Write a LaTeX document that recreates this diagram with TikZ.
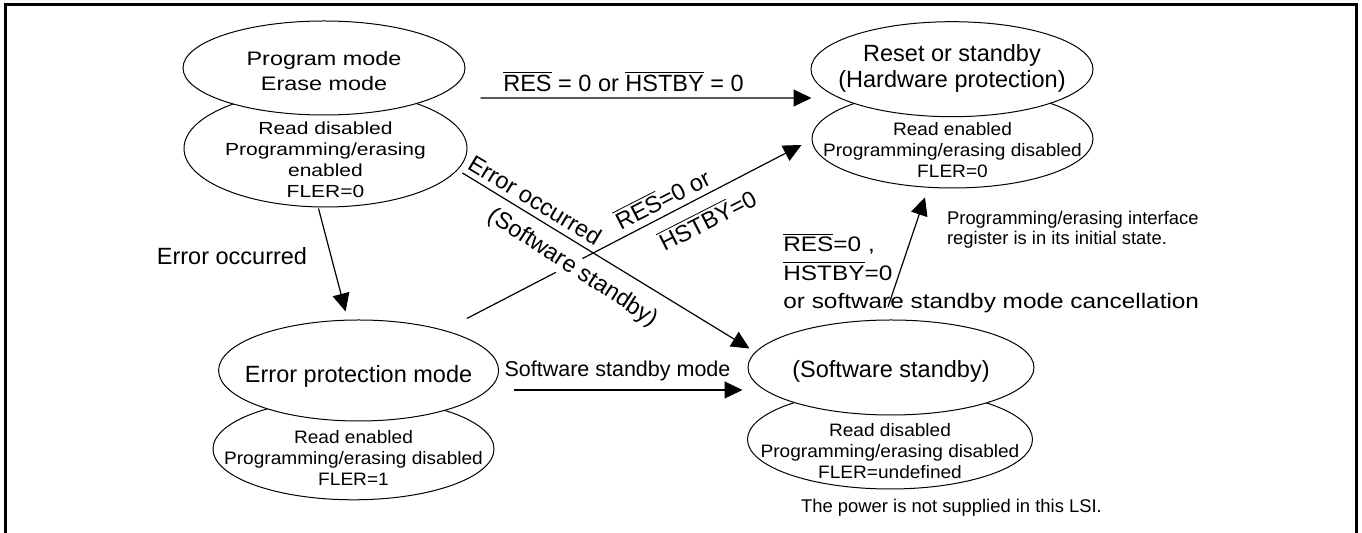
\documentclass[tikz,border=0pt]{standalone}
\usepackage{fontspec}
\setmainfont{Liberation Sans}
\newfontfamily\wideff[FakeStretch=1.2]{Liberation Sans}
\newfontfamily\semiff[FakeStretch=1.06]{Liberation Sans}
\newfontfamily\cancff[FakeStretch=1.16]{Liberation Sans}
\usepackage{tikz}
\usetikzlibrary{shapes.geometric, arrows.meta}
\newcommand{\ovl}[1]{$\overline{\mbox{#1}}$}

\begin{document}
\begin{tikzpicture}[x=0.5pt, y=-0.5pt,
        stateell/.style={ellipse, draw, line width=0.5pt, fill=white, inner sep=0pt},
        arr/.style={-{Triangle[length=9pt, width=8.5pt]}, line width=0.6pt},
        bigtxt/.style={font=\fontsize{11.75}{12.8}\selectfont, inner sep=0pt},
        widetitle/.style={font=\wideff\fontsize{9.75}{12.5}\selectfont, inner sep=0pt, align=center},
        widedetail/.style={font=\wideff\fontsize{8.75}{10.5}\selectfont, inner sep=0pt, align=center},
        detail/.style={font=\semiff\fontsize{9}{10.5}\selectfont, inner sep=0pt, align=center},
        notetxt/.style={font=\fontsize{9.2}{10}\selectfont, inner sep=0pt}]
        \useasboundingbox (0,0) rectangle (1362,533);

        % Outer frame (open at the bottom)
        \draw[line width=1.5pt] (5,540) -- (5,5) -- (1356,5) -- (1356,540);

        % Program / erase mode
        \node[stateell, minimum width=141.5pt, minimum height=58.6pt] (pgmlo) at (325.5,148.4) {};
        \node[stateell, minimum width=141pt, minimum height=47pt] (pgmhi) at (324,68) {};
        \node[widetitle] (pgmname) at (324,71.1) {Program mode\\Erase mode};
        \node[widedetail] (pgminfo) at (325.5,160.1) {Read disabled\\Programming/erasing\\enabled\\FLER=0};

        % Reset or standby
        \node[stateell, minimum width=140.5pt, minimum height=49.3pt] (rstlo) at (952.5,138.7) {};
        \node[stateell, minimum width=141pt, minimum height=47.5pt] (rsthi) at (952,69.2) {};
        \node[bigtxt, align=center] (rstname) at (952,68.4) {Reset or standby\\(Hardware protection)};
        \node[detail] (rstinfo) at (952.5,149.6) {Read enabled\\Programming/erasing disabled\\FLER=0};

        % Error protection mode
        \node[stateell, minimum width=140.5pt, minimum height=50.8pt] (errlo) at (353.5,449) {};
        \node[stateell, minimum width=140pt, minimum height=50.5pt] (errhi) at (358.6,370.5) {};
        \node[bigtxt, anchor=base] (errname) at (358.6,382.5) {Error protection mode};
        \node[detail] (errinfo) at (353.5,458) {Read enabled\\Programming/erasing disabled\\FLER=1};

        % Software standby
        \node[stateell, minimum width=142.5pt, minimum height=49.6pt] (swlo) at (890,439.4) {};
        \node[stateell, minimum width=143pt, minimum height=47.5pt] (swhi) at (891,367.5) {};
        \node[bigtxt, anchor=base] (swname) at (891,378) {(Software standby)};
        \node[detail] (swinfo) at (890,451.4) {Read disabled\\Programming/erasing disabled\\FLER=undefined};

        % Transitions
        \draw[arr] ([shift={(15,30)}]pgmhi.east) -- ([shift={(1,28.8)}]rsthi.west);
        \draw[arr] ([shift={(-7,1)}]pgmlo.south) -- ([shift={(-13,-8)}]errhi.north);
        \draw[arr] ([shift={(-5,24.6)}]pgmlo.east) -- ([shift={(2,-19)}]swhi.west);
        \draw[arr] ([shift={(9,-16)}]errhi.north east) -- ([shift={(-10,6.3)}]rstlo.west);
        \draw[arr] ([shift={(14.4,19.5)}]errhi.east) -- ([shift={(-5,22.5)}]swhi.west);
        \draw[arr] ([shift={(-3,-12.7)}]swhi.north) -- ([shift={(-27.5,8.8)}]rstlo.south);

        % Transition labels
        \node[bigtxt, anchor=base] (lblres) at (623.5,92) {\ovl{RES} = 0 or \ovl{HSTBY} = 0};
        \node[bigtxt, anchor=base] (lblerr) at (232,265) {Error occurred};
        \node[bigtxt, rotate=-31] (lblerrd) at (535,200) {Error occurred};
        \node[bigtxt, rotate=-33, fill=white, inner sep=1pt] (lblsws) at (573,268) {(Software standby)};
        \node[bigtxt, rotate=27] (lblresd) at (662,198) {\ovl{RES}=0 or};
        \node[bigtxt, rotate=27] (lblhst) at (707,219) {\ovl{HSTBY}=0};
        \node[font=\fontsize{10.75}{12}\selectfont, inner sep=0pt, anchor=base] (lblswm) at (617.5,377) {Software standby mode};
        \node[font=\cancff\fontsize{10.5}{14.25}\selectfont, inner sep=0pt, align=left, anchor=north west] (lblcanc) at (783,232.5)
            {\ovl{RES}=0 ,\\\ovl{HSTBY}=0\\or software standby mode cancellation};

        % Notes
        \node[notetxt, align=left, anchor=north west] (noteif) at (946.7,210.6) {Programming/erasing interface\\register is in its initial state.};
        \node[notetxt, anchor=base] (notepwr) at (951.5,513) {The power is not supplied in this LSI.};
\end{tikzpicture}
\end{document}
